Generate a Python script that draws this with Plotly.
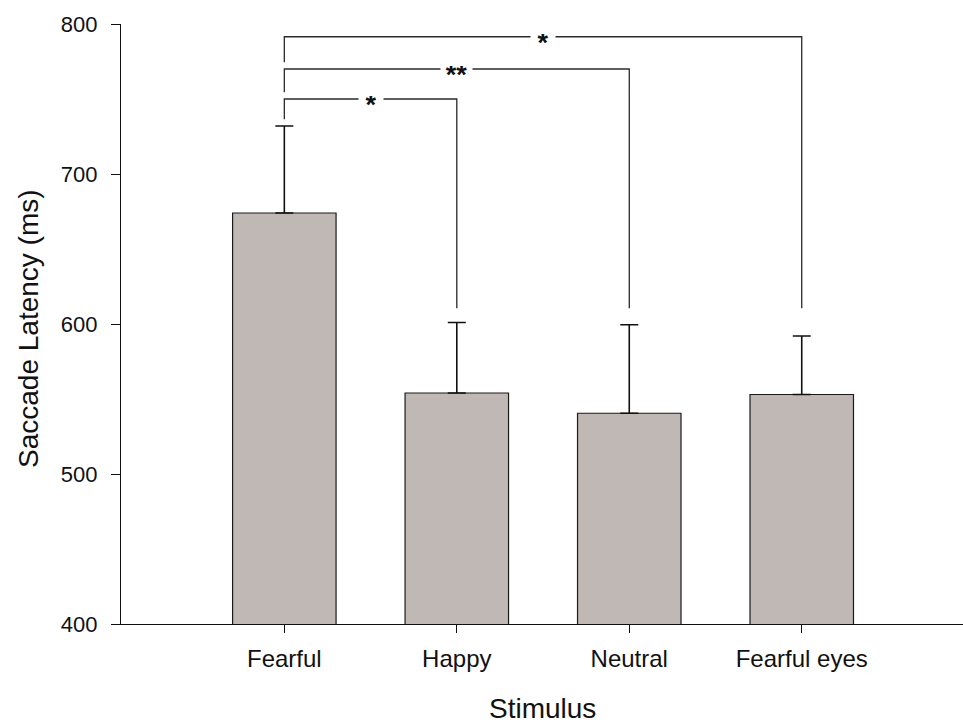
import plotly.graph_objects as go

# Mean saccade latency per stimulus type, with the upper error (ms)
stimuli = ["Fearful", "Happy", "Neutral", "Fearful eyes"]
latency = [674, 554, 540.5, 553]
error_up = [58, 47, 59, 39]

# Significance brackets: compared pair, height of the bar, leg ends, label
pair_from = [0, 0, 0]
pair_to = [1, 2, 3]
bracket_level = [750, 770, 791.5]
left_leg_end = [736.5, 754.5, 774.5]
right_leg_end = [610.5, 610.5, 610.5]
bracket_label = ["*", "**", "*"]

y_ticks = [400, 500, 600, 700, 800]

FONT = "Liberation Sans, Arial, sans-serif"
BAR_FILL = "#c0b8b5"

fig = go.Figure()

fig.add_trace(go.Bar(
    x=list(range(len(stimuli))),
    y=latency,
    base=0,
    width=0.6,
    marker=dict(color=BAR_FILL, line=dict(color="#1a1a1a", width=1.2)),
    error_y=dict(type="data", symmetric=False, array=error_up,
                 arrayminus=[0] * len(stimuli),
                 color="#111111", thickness=1.6, width=9),
    showlegend=False,
    hoverinfo="skip",
))

annotations = []
for a, b, lvl, l_end, r_end, lab in zip(pair_from, pair_to, bracket_level,
                                         left_leg_end, right_leg_end,
                                         bracket_label):
    fig.add_trace(go.Scatter(
        x=[a, a, b, b],
        y=[l_end, lvl, lvl, r_end],
        mode="lines",
        line=dict(color="#2a2a2a", width=1.3),
        showlegend=False,
        hoverinfo="skip",
    ))
    annotations.append(dict(
        x=(a + b) / 2, y=lvl, xref="x", yref="y",
        text="<b>" + lab + "</b>", showarrow=False,
        font=dict(family=FONT, size=27, color="#111111"),
        bgcolor="white", borderpad=0,
        width=24 if lab == "*" else 31, height=18,
        xanchor="center", yanchor="middle", yshift=-6,
    ))

# Axis titles
annotations.append(dict(
    x=0, y=0.5, xref="paper", yref="paper",
    text="Saccade Latency (ms)", textangle=-90, showarrow=False,
    font=dict(family=FONT, size=28, color="#111111"),
    xanchor="center", yanchor="middle", xshift=-93, yshift=-5,
))
annotations.append(dict(
    x=0.5, y=0, xref="paper", yref="paper",
    text="Stimulus", showarrow=False,
    font=dict(family=FONT, size=28, color="#111111"),
    xanchor="center", yanchor="middle", yshift=-84,
))

fig.update_layout(
    width=963, height=724,
    margin=dict(l=121, r=0, t=24, b=100),
    plot_bgcolor="white", paper_bgcolor="white",
    font=dict(family=FONT, size=21, color="#111111"),
    annotations=annotations,
    bargap=0.4,
)

fig.update_xaxes(
    range=[-0.947, 3.935],
    tickmode="array",
    tickvals=list(range(len(stimuli))),
    ticktext=stimuli,
    ticks="outside", ticklen=8, tickwidth=1.3, tickcolor="#111111",
    showline=True, linecolor="#111111", linewidth=1.4,
    showgrid=False, zeroline=False,
    ticklabelstandoff=5,
    tickfont=dict(family=FONT, size=24, color="#111111"),
)

fig.update_yaxes(
    range=[400, 800],
    tickmode="array",
    tickvals=y_ticks,
    ticks="outside", ticklen=9, tickwidth=1.3, tickcolor="#111111",
    showline=True, linecolor="#111111", linewidth=1.4,
    showgrid=False, zeroline=False,
    ticklabelstandoff=9,
    tickfont=dict(family=FONT, size=22, color="#111111"),
)

fig.write_html("out.html")
